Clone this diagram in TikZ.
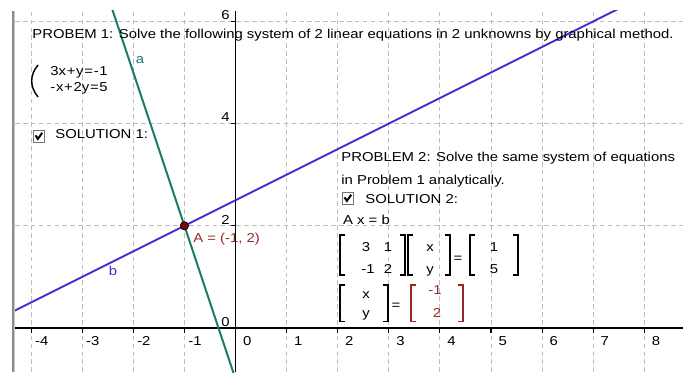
\documentclass[tikz,border=0pt]{standalone}
\usepackage{fontspec}
\setmainfont{Liberation Sans}[FakeStretch=1.15]
\definecolor{ggteal}{RGB}{24,122,106}
\definecolor{ggblue}{RGB}{72,42,206}
\definecolor{ggred}{RGB}{120,10,10}
\definecolor{gglbl}{RGB}{150,40,40}
\definecolor{gggrid}{RGB}{190,190,190}
\tikzset{
  gridline/.style={gggrid,line width=.5pt,dash pattern=on 2.6pt off 1.8pt},
  axisline/.style={line width=.6pt},
  graphline/.style={line width=1.1pt},
  txt/.style={inner sep=0pt,anchor=base west},
  entry/.style={inner sep=0pt,anchor=base},
  chkbox/.pic={
    \draw[black!55,line width=.5pt] (0,0) rectangle (.23,.23);
    \draw[line width=1.1pt] (.05,.13) -- (.095,.06) -- (.18,.18);
  },
}
\newcommand{\lbr}[4][black]{\draw[#1,line width=.7pt] (#2+.1,#3) -| (#2,#4) -- (#2+.1,#4);}
\newcommand{\rbr}[4][black]{\draw[#1,line width=.7pt] (#2-.1,#3) -| (#2,#4) -- (#2-.1,#4);}

\begin{document}
\begin{tikzpicture}[font=\fontsize{7.2}{8.6}\selectfont]
  \useasboundingbox (-4.609,-.861) rectangle (8.757,6.419);
  \fill[black!45] (-4.374,-.861) rectangle (-4.338,6.204);
  \fill[black!20] (-4.338,-.861) rectangle (-4.315,6.204);
  \begin{scope}
    \clip (-4.315,-.861) rectangle (8.757,6.204);
    % grid and axes
    \foreach \i in {-4,...,-1,1,2,...,8}{\draw[gridline] (\i,-.861) -- (\i,6.204);}
    \foreach \j in {2,4,6}{\draw[gridline] (-4.315,\j) -- (8.757,\j);}
    \draw[axisline] (-4.315,0) -- (8.757,0);
    \draw[axisline] (0,-.861) -- (0,6.204);
    \foreach \i in {-4,...,-1,1,2,...,8}{\draw[axisline] (\i,0) -- (\i,-.09);}
    \foreach \j in {2,4,6}{\draw[axisline] (0,\j) -- (-.09,\j);}
    \foreach \i in {-4,...,-1}{\node[txt] (xl\i) at (\i+.07,-.333) {\i};}
    \foreach \i in {0,...,8}{\node[txt] (xl\i) at (\i+.14,-.333) {\i};}
    \foreach \j in {0,2,4,6}{\node[inner sep=0pt,anchor=base east] (yl\j) at (-.108,\j+.035) {\j};}
    % the two lines
    \draw[graphline,ggteal] (-2.45,6.35) -- (-.03,-.91);
    \draw[graphline,ggblue] (-4.5,.25) -- (8.8,6.9);
    \node[circle,fill=ggred,draw=black!70!ggred,line width=.5pt,inner sep=0pt,minimum size=.16cm] (A) at (-1,2) {};
    \node[entry,ggteal] (la) at (-1.869,5.176) {a};
    \node[entry,ggblue] (lb) at (-2.397,1.018) {b};
    \node[txt,gglbl] (lA) at (-.832,1.669) {A = (-1, 2)};
  \end{scope}
  % problem 1
  \node[txt] (prob1) at (-3.982,5.675) {PROBEM 1: Solve the following system of 2 linear equations in 2 unknowns by graphical method.};
  \draw[line width=.8pt] (-3.865,5.147) .. controls (-4.03,4.95) and (-4.03,4.72) .. (-3.865,4.521);
  \node[txt] (eq1) at (-3.630,4.951) {3x\kern.4pt+\kern.4pt y\kern.4pt=\kern.4pt-\kern.4pt1};
  \node[txt] (eq2) at (-3.630,4.624) {-\kern.4pt x\kern.4pt+\kern.4pt2y\kern.4pt=\kern.4pt5};
  \pic at (-3.963,3.64) {chkbox};
  \node[txt] (sol1) at (-3.532,3.708) {SOLUTION 1:};
  % problem 2
  \node[txt] (prob2a) at (2.065,3.249) {PROBLEM 2: Solve the same system of equations};
  \node[txt] (prob2b) at (2.065,2.812) {in Problem 1 analytically.};
  \pic at (2.084,2.427) {chkbox};
  \node[txt] (sol2) at (2.534,2.427) {SOLUTION 2:};
  \node[txt] (axb) at (2.098,2.016) {A x = b};
  \lbr{2.045}{1.82}{1.037} \rbr{3.317}{1.82}{1.037}
  \node[entry] (m11) at (2.554,1.493) {3};
  \node[entry] (m12) at (2.984,1.493) {1};
  \node[entry] (m21) at (2.593,1.07) {-1};
  \node[entry] (m22) at (2.984,1.07) {2};
  \lbr{3.376}{1.82}{1.037} \rbr{4.198}{1.82}{1.037}
  \node[entry] (vx) at (3.806,1.493) {x};
  \node[entry] (vy) at (3.806,1.07) {y};
  \node[entry,anchor=center] (eqa) at (4.354,1.35) {=};
  \lbr{4.589}{1.82}{1.037} \rbr{5.528}{1.82}{1.037}
  \node[entry] (b1) at (5.059,1.493) {1};
  \node[entry] (b2) at (5.059,1.07) {5};
  \lbr{2.045}{.841}{.127} \rbr{2.984}{.841}{.127}
  \node[entry] (sx) at (2.554,.587) {x};
  \node[entry] (sy) at (2.554,.196) {y};
  \node[entry,anchor=center] (eqb) at (3.141,.43) {=};
  \lbr[gglbl]{3.434}{.841}{.127} \rbr[gglbl]{4.452}{.841}{.127}
  \node[entry,gglbl] (s1) at (3.904,.646) {-1};
  \node[entry,gglbl] (s2) at (3.943,.215) {2};
\end{tikzpicture}
\end{document}
